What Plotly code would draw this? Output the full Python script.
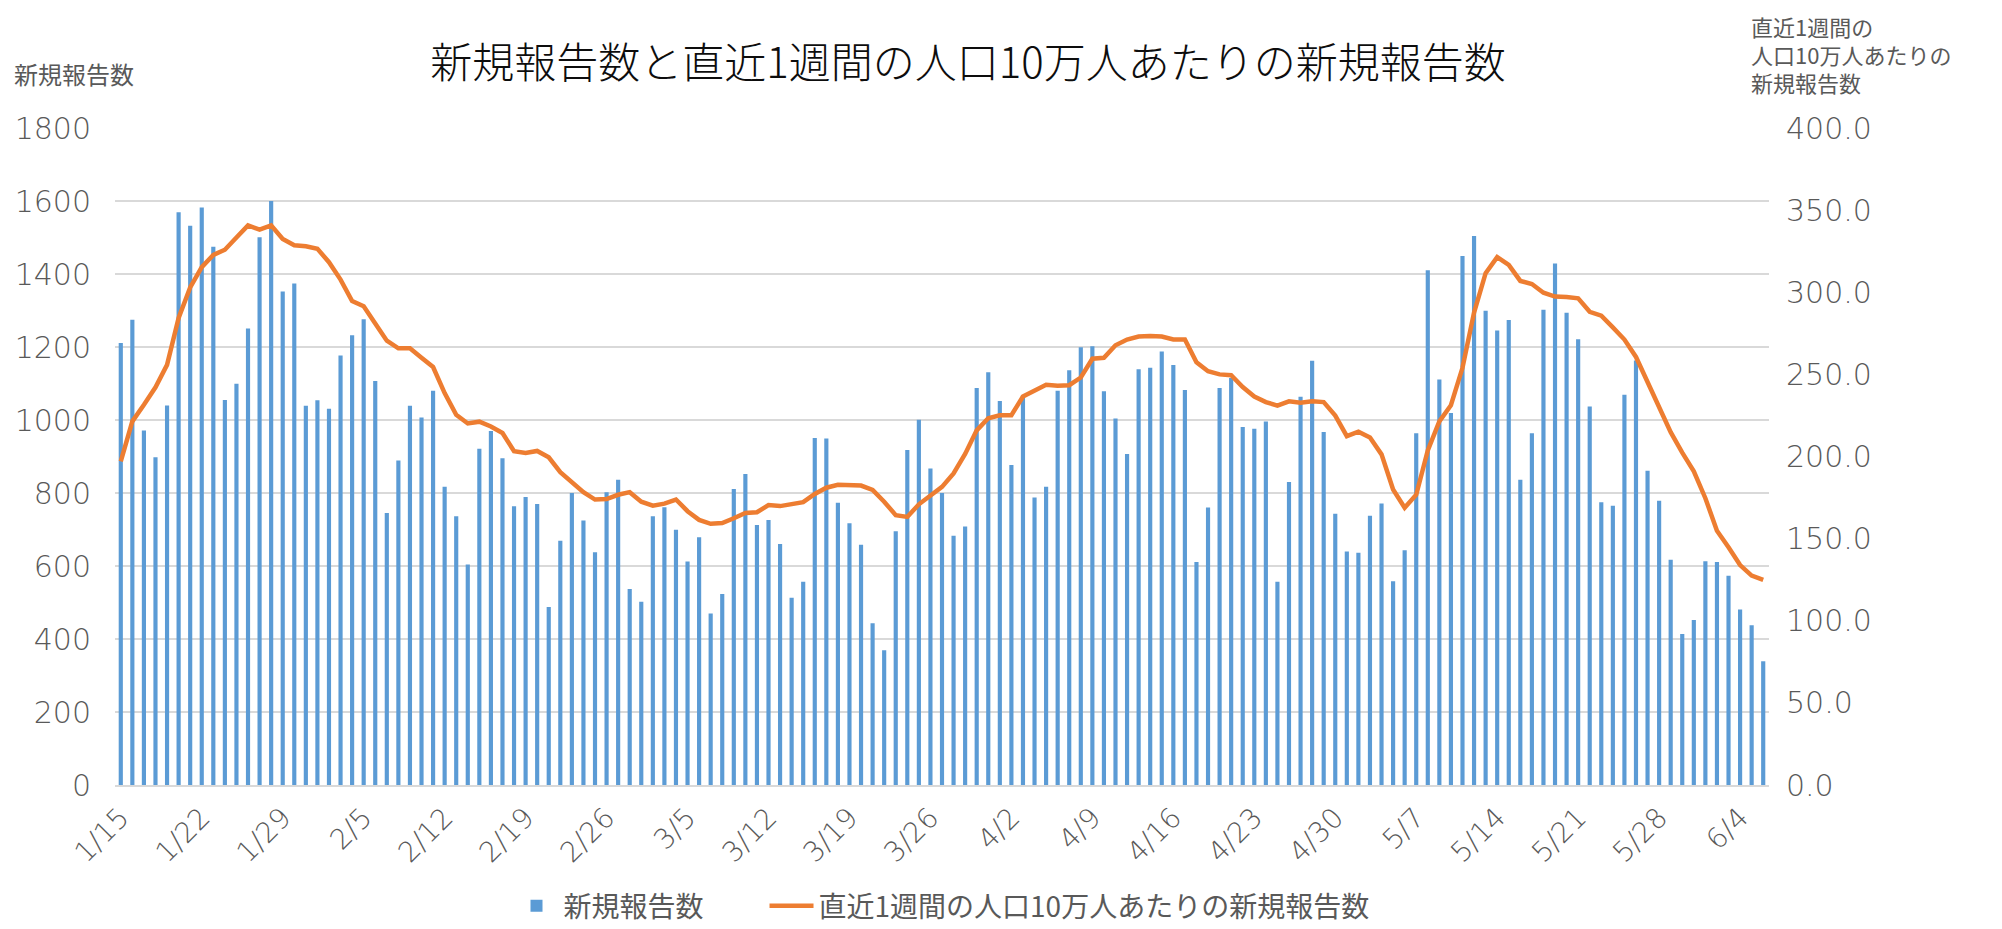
import pandas as pd
import plotly.graph_objects as go

# ---- data -------------------------------------------------------------
dates = pd.date_range("2022-01-15", "2022-06-06", freq="D")
categories = [f"{d.month}/{d.day}" for d in dates]

new_reports = [
    1211, 1275, 971, 898, 1040, 1569, 1532, 1582, 1475, 1055, 1099, 1251,
    1501, 1600, 1352, 1374, 1039, 1054, 1031, 1177, 1232, 1276, 1107, 745,
    889, 1039, 1007, 1080, 817, 736, 604, 921, 970, 895, 764, 789,
    770, 488, 669, 800, 725, 638, 802, 836, 537, 502, 736, 761,
    699, 612, 679, 470, 523, 811, 852, 712, 726, 660, 513, 557,
    951, 949, 773, 717, 658, 443, 369, 695, 918, 1001, 867, 800,
    683, 708, 1088, 1131, 1052, 877, 1068, 788, 817, 1080, 1136, 1199,
    1202, 1079, 1004, 907, 1139, 1143, 1188, 1151, 1082, 611, 760, 1088, 1115,
    981, 976, 996, 557, 830, 1064, 1162, 967, 743, 640, 636, 738,
    771, 558, 643, 964, 1410, 1111, 1019, 1449, 1504, 1299, 1245, 1274,
    836, 964, 1302, 1429, 1294, 1221, 1037, 775, 765, 1069, 1163,
    861, 779, 617, 414, 452, 613, 611, 573, 481, 438, 339,
]

weekly_per_100k = [
    197.1, 221.4, 231.5, 242.1, 255.8, 284.4, 302.9, 315.3, 322.7, 325.9, 333.3, 340.7,
    338.1, 340.7, 332.5, 328.6, 328.0, 326.5, 318.3, 307.7, 294.7, 291.5, 281.0, 270.5,
    265.9, 265.9, 260.1, 254.5, 238.6, 225.4, 220.1, 221.2, 218.3, 214.3, 203.2, 202.1,
    203.4, 199.5, 190.5, 184.1, 178.3, 173.8, 174.1, 176.7, 178.3, 172.5, 170.1, 171.3,
    173.8, 166.7, 161.4, 159.0, 159.5, 162.4, 165.6, 166.1, 170.4, 169.8, 171.2, 172.2,
    177.2, 181.0, 182.8, 182.6, 182.3, 179.6, 172.5, 164.3, 163.2, 170.9, 176.5, 181.5,
    189.7, 201.6, 215.9, 223.3, 225.1, 225.1, 236.5, 239.9, 243.7, 243.1, 243.4, 248.1,
    259.5, 260.1, 267.7, 271.2, 273.0, 273.3, 273.0, 271.2, 271.2, 257.4, 251.9, 250.0, 249.5,
    242.3, 236.5, 233.1, 231.0, 233.6, 232.8, 233.6, 233.1, 224.9, 212.4, 215.1, 211.6,
    201.3, 179.9, 168.8, 176.7, 203.7, 221.4, 231.2, 254.0, 287.6, 311.6, 321.4, 316.7,
    306.9, 305.0, 299.7, 297.4, 297.1, 296.3, 288.1, 285.7, 278.6, 271.2, 260.6,
    245.2, 229.6, 214.8, 202.4, 191.0, 174.6, 154.8, 144.7, 133.9, 127.5, 124.9,
]

tick_labels = categories[::7]

title_text = "新規報告数と直近1週間の人口10万人あたりの新規報告数"
bar_name = "新規報告数"
line_name = "直近1週間の人口10万人あたりの新規報告数"
left_axis_title = "新規報告数"
right_axis_title_lines = ["直近1週間の", "人口10万人あたりの", "新規報告数"]

# ---- style ------------------------------------------------------------
FONT = "Noto Sans CJK JP, Noto Sans, sans-serif"
NUMFONT = "DejaVu Sans, Noto Sans, sans-serif"
GRAY = "#595959"
BLUE = "#5B9BD5"
ORANGE = "#ED7D31"
GRID = "#D9D9D9"

OFF = 8                       # page body margin of the html page
W, H = 2002 - OFF, 929 - OFF  # figure size
# target plot box in page pixels: x 115..1769, y 128..785
L, T = 115 - OFF, 128 - OFF
R = W - (1769 - OFF)
B = H - (785 - OFF)
pw, ph = W - L - R, H - T - B


def px_x(page_x):
    return (page_x - OFF - L) / pw


def px_y(page_y):
    return (H - B - (page_y - OFF)) / ph


fig = go.Figure()
fig.add_trace(go.Bar(
    x=categories, y=new_reports, name=bar_name + "\u3000\u3000",
    marker=dict(color=BLUE, line=dict(width=0)), yaxis="y",
))
fig.add_trace(go.Scatter(
    x=categories, y=weekly_per_100k, name=line_name, mode="lines",
    line=dict(color=ORANGE, width=4.5), yaxis="y2",
))

fig.update_layout(
    template="none",
    width=W, height=H,
    margin=dict(l=L, r=R, t=T, b=B, autoexpand=False),
    paper_bgcolor="white", plot_bgcolor="white",
    font=dict(family=FONT, color=GRAY),
    bargap=0.64,
    title=dict(text=title_text, x=(968 - OFF) / W, xanchor="center", xref="container",
               y=1 - (63 - OFF) / H, yanchor="middle", yref="container",
               font=dict(size=42, color="#0D0D0D", family=FONT, weight=300)),
    xaxis=dict(type="category", categoryorder="array", categoryarray=categories,
               range=[-0.5, len(categories) - 0.5], automargin=False,
               tickmode="array", tickvals=tick_labels, ticktext=tick_labels,
               tickangle=-45, tickfont=dict(size=28, color=GRAY, family=NUMFONT, weight=300),
               showgrid=False, showline=True, linecolor=GRID, linewidth=2,
               ticks="", ticklabelstandoff=3),
    yaxis=dict(range=[0, 1800], dtick=200, tick0=0, showgrid=True, gridcolor=GRID,
               gridwidth=1.5, zeroline=False, showline=False, automargin=False,
               ticks="",
               tickfont=dict(size=30, color=GRAY, family=NUMFONT, weight=300),
               ticklabelstandoff=23),
    yaxis2=dict(range=[0, 400], dtick=50, tick0=0, tickformat=".1f", overlaying="y",
                side="right", showgrid=False, zeroline=False, showline=False,
                automargin=False, ticks="",
                tickfont=dict(size=30, color=GRAY, family=NUMFONT, weight=300),
                ticklabelstandoff=16),
    legend=dict(orientation="h", x=(942 - OFF) / W, xanchor="center", xref="container",
                y=1 - (906 - OFF) / H, yanchor="middle", yref="container",
                font=dict(size=28, color=GRAY, family=FONT),
                itemwidth=44, tracegroupgap=0, bgcolor="rgba(0,0,0,0)"),
    showlegend=True,
)

fig.add_annotation(text=left_axis_title, xref="paper", yref="paper",
                   x=px_x(12), y=px_y(73), xanchor="left", yanchor="middle",
                   showarrow=False, font=dict(size=24, color=GRAY, family=FONT))
for line_text, page_y in zip(right_axis_title_lines, [26, 54, 82]):
    fig.add_annotation(text=line_text, xref="paper", yref="paper",
                       x=px_x(1750), y=px_y(page_y), xanchor="left", yanchor="middle",
                       align="left", showarrow=False, borderpad=0,
                       font=dict(size=22, color=GRAY, family=FONT))

fig.write_html("out.html")
